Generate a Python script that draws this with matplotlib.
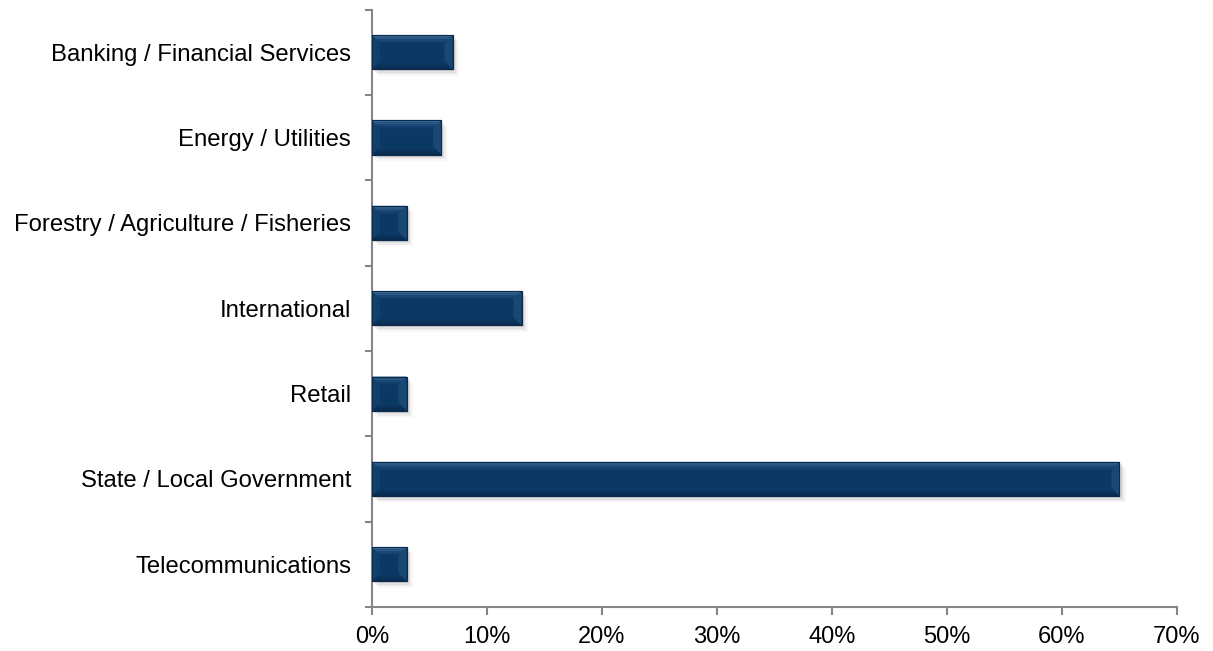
import matplotlib
matplotlib.use("Agg")
import matplotlib.pyplot as plt
import matplotlib.patheffects as pe
from matplotlib.patches import Polygon
from matplotlib.ticker import FuncFormatter, FixedLocator

plt.rcParams['font.family'] = ['Liberation Sans', 'DejaVu Sans']

categories = [
    "Banking / Financial Services",
    "Energy / Utilities",
    "Forestry / Agriculture / Fisheries",
    "International",
    "Retail",
    "State / Local Government",
    "Telecommunications",
]
shares = [7, 6, 3, 13, 3, 65, 3]
x_ticks = [0, 10, 20, 30, 40, 50, 60, 70]

W, H, DPI = 1213, 651, 100
fig = plt.figure(figsize=(W / DPI, H / DPI), dpi=DPI)
ax = fig.add_axes([0.3067, 0.0676, 0.6636, 0.9178])

ypos = list(range(len(categories)))
bar_h = 0.4
base = "#0c3864"
bars = ax.barh(ypos, shares, height=bar_h, color=base, edgecolor="#0a2a4c",
               linewidth=0.8, zorder=3)

# soft drop shadow built from several faint offset copies
shadow = [pe.SimplePatchShadow(offset=(o, -o), shadow_rgbFace="#7a7a7a", alpha=a)
          for o, a in ((4.5, 0.06), (3.5, 0.08), (2.5, 0.10), (1.5, 0.12))]
for b in bars:
    b.set_path_effects(shadow + [pe.Normal()])

ax.set_xlim(0, 70)
ax.set_ylim(len(categories) - 0.5, -0.5)

# bevel facets, sized in pixels and converted to data units
fig.canvas.draw()
px_x = 70 / (ax.get_window_extent().width)
px_y = len(categories) / (ax.get_window_extent().height)
bev = 8


def band(x0, x1, ya, yb, da, db, dx, col):
    """Trapezoid strip of a horizontal bevel between fractions da..db of its depth."""
    return Polygon([(x0 + da * dx, ya), (x1 - da * dx, ya),
                    (x1 - db * dx, yb), (x0 + db * dx, yb)],
                   closed=True, facecolor=col, edgecolor="none", zorder=4)


top_cols = ["#3a6794", "#2b5884", "#1d4976", "#143f6c"]
bot_cols = ["#082b50", "#0a3057", "#0b345e"]
for b in bars:
    x0, y0 = b.get_x(), b.get_y()
    w, h = b.get_width(), b.get_height()
    x1, y1 = x0 + w, y0 + h
    dx, dy = bev * px_x, bev * px_y
    dx = min(dx, w / 2)
    # side facets first, horizontal bands drawn over them
    ax.add_patch(Polygon([(x0, y0), (x0 + dx, y0 + dy), (x0 + dx, y1 - dy), (x0, y1)],
                         closed=True, facecolor="#123f6c", edgecolor="none", zorder=4))
    ax.add_patch(Polygon([(x1, y0), (x1 - dx, y0 + dy), (x1 - dx, y1 - dy), (x1, y1)],
                         closed=True, facecolor="#1a4875", edgecolor="none", zorder=4))
    n = len(top_cols)
    for i, col in enumerate(top_cols):
        da, db = i / n, (i + 1) / n
        ax.add_patch(band(x0, x1, y0 + da * dy, y0 + db * dy, da, db, dx, col))
    n = len(bot_cols)
    for i, col in enumerate(bot_cols):
        da, db = i / n, (i + 1) / n
        ax.add_patch(band(x0, x1, y1 - da * dy * 0.7, y1 - db * dy * 0.7,
                          da * 0.7, db * 0.7, dx, col))
    ax.add_patch(Polygon([(x0, y0), (x1, y0), (x1, y1), (x0, y1)], closed=True,
                         facecolor="none", edgecolor="#0b2b4d", linewidth=0.8,
                         zorder=5))

axis_col = "#868686"
for side in ("top", "right"):
    ax.spines[side].set_visible(False)
for side in ("left", "bottom"):
    ax.spines[side].set_color(axis_col)
    ax.spines[side].set_linewidth(1.5)

ax.xaxis.set_major_locator(FixedLocator(x_ticks))
ax.xaxis.set_major_formatter(FuncFormatter(lambda v, p: f"{v:.0f}%"))
ax.tick_params(axis="x", length=6, width=1.5, color=axis_col, pad=8,
               labelsize=17, labelcolor="black")

ax.set_yticks(ypos)
ax.set_yticklabels(categories)
ax.tick_params(axis="y", which="major", length=0, pad=15, labelsize=17.2,
               labelcolor="black")
ax.yaxis.set_minor_locator(FixedLocator([i - 0.5 for i in range(len(categories) + 1)]))
ax.tick_params(axis="y", which="minor", length=5, width=1.5, color=axis_col)

fig.savefig("out.png", dpi=DPI)
